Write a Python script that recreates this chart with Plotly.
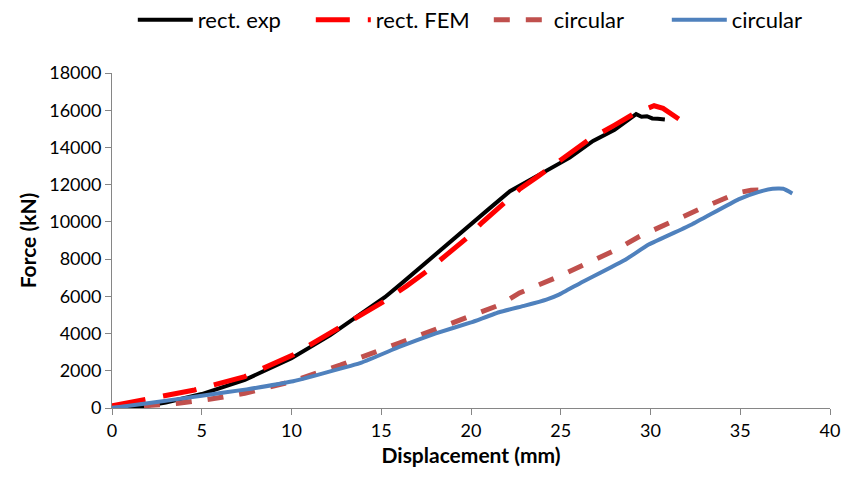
import plotly.graph_objects as go

# Data
rect_exp_x = [0.5, 1.5, 3, 5, 7.4, 10, 12.14, 13.5, 15.2, 16.2, 17.16, 18.65, 19.94, 21, 22.17, 23, 23.75, 24.4, 25.5, 26.8, 28, 29.2, 29.5, 29.8, 30.1, 30.4, 30.8]
rect_exp_y = [0, 50, 300, 750, 1510, 2680, 3900, 4800, 5950, 6750, 7550, 8750, 9800, 10700, 11650, 12100, 12500, 12850, 13450, 14350, 14950, 15790, 15650, 15680, 15560, 15540, 15500]

rect_fem_x = [0, 1.8, 4.6, 7.4, 10.1, 12.14, 13.9, 15.2, 16.4, 17.6, 18.65, 19.85, 20.6, 21.99, 22.7, 23.75, 24.4, 25.5, 26.6, 28, 29.2, 29.7, 30.2, 30.7, 31.2, 31.8]
rect_fem_y = [120, 430, 970, 1690, 2860, 4020, 5010, 5750, 6550, 7400, 8240, 9200, 9950, 11170, 11750, 12460, 12900, 13650, 14440, 15200, 15880, 16050, 16240, 16100, 15800, 15380]

circ_fem_x = [0, 2, 3.7, 5.5, 7.4, 10, 12.75, 16, 18, 20, 21.6, 22.7, 24.9, 26.6, 28.1, 29.4, 31.2, 33, 34.9, 35.6, 36.1, 36.4, 36.6]
circ_fem_y = [0, 120, 250, 480, 790, 1420, 2320, 3490, 4250, 4950, 5540, 6180, 7070, 7800, 8510, 9230, 10040, 10800, 11570, 11700, 11710, 11400, 11120]

circ_exp_x = [0, 2.5, 5, 7.5, 10, 13.9, 16, 18, 20, 21.6, 23, 24.2, 24.9, 26.1, 28.6, 29.9, 32.3, 34.9, 36, 36.8, 37.4, 37.9]
circ_exp_y = [0, 320, 660, 1000, 1420, 2440, 3280, 4000, 4600, 5160, 5500, 5820, 6090, 6720, 7970, 8780, 9860, 11210, 11600, 11780, 11780, 11530]

series_names = ["rect. exp", "rect. FEM", "circular", "circular"]

FONT = "Lato"

fig = go.Figure()
fig.add_trace(go.Scatter(x=rect_exp_x, y=rect_exp_y, mode="lines", name=series_names[0],
                         line=dict(color="#000000", width=4)))
fig.add_trace(go.Scatter(x=rect_fem_x, y=rect_fem_y, mode="lines", name=series_names[1],
                         line=dict(color="#FF0000", width=5, dash="34px,18px")))
fig.add_trace(go.Scatter(x=circ_fem_x, y=circ_fem_y, mode="lines", name=series_names[2],
                         line=dict(color="#C0504D", width=5, dash="16px,16px")))
fig.add_trace(go.Scatter(x=circ_exp_x, y=circ_exp_y, mode="lines", name=series_names[3],
                         line=dict(color="#4F81BD", width=4, shape="spline", smoothing=0.3)))

axis_common = dict(
    showgrid=False, zeroline=False, showline=True, linecolor="#868686", linewidth=1,
    ticks="outside", ticklen=6, tickcolor="#868686", automargin=False,
    tickfont=dict(family=FONT, size=18, color="#000000"),
)

fig.update_layout(
    width=849, height=474,
    paper_bgcolor="white", plot_bgcolor="white",
    margin=dict(l=104, r=27, t=65, b=74),
    font=dict(family=FONT, color="#000000"),
    legend=dict(orientation="h", xref="container", yref="container",
                x=0.147, xanchor="left", y=0.975, yanchor="middle",
                font=dict(family=FONT, size=22, color="#000000"),
                itemwidth=55, entrywidth=108, entrywidthmode="pixels", tracegroupgap=0),
    xaxis=dict(range=[0, 40], dtick=5, tick0=0,
               title=dict(text="<b>Displacement (mm)</b>", font=dict(family=FONT, size=21), standoff=8),
               **axis_common),
    yaxis=dict(range=[0, 18000], dtick=2000, tick0=0, tickformat="d",
               title=dict(text="<b>Force (kN)</b>", font=dict(family=FONT, size=21), standoff=6),
               **axis_common),
)

fig.write_html("out.html")
